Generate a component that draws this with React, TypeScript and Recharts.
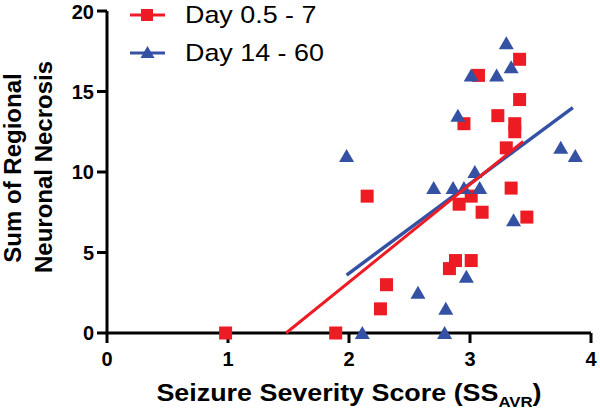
import { ScatterChart, Scatter, XAxis, YAxis, Label } from "recharts";

const RED = "#ED1C24";
const BLUE = "#3451A3";
const FONT = "'Liberation Sans', Arial, Helvetica, sans-serif";

// Day 0.5 - 7
const earlyScore = [0.98, 1.89, 2.15, 2.26, 2.31, 2.83, 2.88, 3.01, 2.91, 3.01, 3.1, 2.95, 3.07, 3.23, 3.37, 3.37, 3.3, 3.34, 3.41, 3.41, 3.47];
const earlyNecrosis = [0, 0, 8.5, 1.5, 3.0, 4.0, 4.5, 4.5, 8.0, 8.5, 7.5, 13.0, 16.0, 13.5, 13.0, 12.5, 11.5, 9.0, 14.5, 17.0, 7.2];

// Day 14 - 60
const lateScore = [1.98, 2.11, 2.57, 2.79, 2.8, 2.97, 2.7, 2.86, 2.95, 3.08, 3.04, 2.9, 3.01, 3.22, 3.3, 3.34, 3.36, 3.75, 3.87];
const lateNecrosis = [11.0, 0, 2.5, 0, 1.5, 3.5, 9.0, 9.0, 9.0, 9.0, 10.0, 13.5, 16.0, 16.0, 18.0, 16.5, 7.0, 11.5, 11.0];

// regression lines, end points
const earlyFitScore = [1.48, 3.44];
const earlyFitNecrosis = [0, 11.9];
const lateFitScore = [1.98, 3.85];
const lateFitNecrosis = [3.6, 14.0];

const xTicks = [0, 1, 2, 3, 4];
const yTicks = [0, 5, 10, 15, 20];

const zip = (xs: number[], ys: number[]) => xs.map((x, i) => ({ x, y: ys[i] }));

const early = zip(earlyScore, earlyNecrosis);
const late = zip(lateScore, lateNecrosis);
const earlyFit = zip(earlyFitScore, earlyFitNecrosis);
const lateFit = zip(lateFitScore, lateFitNecrosis);

function Square(props: any) {
  const { cx, cy } = props;
  return <rect x={cx - 6.5} y={cy - 6.5} width={13} height={13} fill={RED} />;
}

function Triangle(props: any) {
  const { cx, cy } = props;
  return <polygon points={`${cx},${cy - 7} ${cx + 7.5},${cy + 6} ${cx - 7.5},${cy + 6}`} fill={BLUE} />;
}

const NoDot = () => <g />;

function XTitle(props: any) {
  const vb = props.viewBox || { x: 107, y: 333, width: 484 };
  const cx = vb.x + vb.width / 2;
  return (
    <text
      transform={`translate(${cx}, 401) scale(1.12, 1)`}
      textAnchor="middle"
      fontFamily={FONT}
      fontWeight="bold"
      fontSize={24}
      fill="#000"
    >
      <tspan>Seizure Severity Score (SS</tspan>
      <tspan fontSize={15} dy={6}>AVR</tspan>
      <tspan dy={-6}>)</tspan>
    </text>
  );
}

function YTitle() {
  const common = {
    textAnchor: "middle" as const,
    fontFamily: FONT,
    fontWeight: "bold",
    fontSize: 24,
    fill: "#000",
  };
  return (
    <g>
      <text {...common} transform="translate(21, 168) rotate(-90)">
        Sum of Regional
      </text>
      <text {...common} transform="translate(52, 167) rotate(-90)">
        Neuronal Necrosis
      </text>
    </g>
  );
}

function LegendBox() {
  return (
    <svg width={260} height={70} style={{ position: "absolute", left: 128, top: 0 }}>
      <line x1={2} y1={15} x2={37} y2={15} stroke={RED} strokeWidth={3} />
      <rect x={13} y={9} width={12} height={12} fill={RED} />
      <text x={57} y={23} fontFamily={FONT} fontSize={24} fill="#000" transform="translate(57,0) scale(1.12,1) translate(-57,0)">
        Day 0.5 - 7
      </text>
      <line x1={2} y1={53} x2={37} y2={53} stroke={BLUE} strokeWidth={3} />
      <polygon points="19.5,46 26.5,58 12.5,58" fill={BLUE} />
      <text x={57} y={61} fontFamily={FONT} fontSize={24} fill="#000" transform="translate(57,0) scale(1.12,1) translate(-57,0)">
        Day 14 - 60
      </text>
    </svg>
  );
}

const tickStyle = { fill: "#000", fontSize: 20, fontWeight: "bold", fontFamily: FONT };

export default function App() {
  return (
    <div style={{ position: "absolute", left: 0, top: 0, width: 600, height: 413, background: "#fff" }}>
      <ScatterChart width={600} height={413} margin={{ top: 11, right: 9, bottom: 0, left: 0 }}>
        <XAxis
          type="number"
          dataKey="x"
          domain={[0, 4]}
          ticks={xTicks}
          height={80}
          axisLine={{ stroke: "#000", strokeWidth: 3 }}
          tickLine={{ stroke: "#000", strokeWidth: 3 }}
          tickSize={10}
          tickMargin={9}
          tick={tickStyle}
        >
          <Label content={XTitle} />
        </XAxis>
        <YAxis
          type="number"
          dataKey="y"
          domain={[0, 20]}
          ticks={yTicks}
          width={107}
          axisLine={{ stroke: "#000", strokeWidth: 3 }}
          tickLine={{ stroke: "#000", strokeWidth: 3 }}
          tickSize={10}
          tickMargin={3}
          tick={tickStyle}
        >
          <Label content={YTitle} />
        </YAxis>
        <Scatter data={early} shape={Square} isAnimationActive={false} />
        <Scatter data={late} shape={Triangle} isAnimationActive={false} />
        <Scatter data={lateFit} shape={NoDot} line={{ stroke: BLUE, strokeWidth: 3.5 }} isAnimationActive={false} />
        <Scatter data={earlyFit} shape={NoDot} line={{ stroke: RED, strokeWidth: 3 }} isAnimationActive={false} />
      </ScatterChart>
      <LegendBox />
    </div>
  );
}
